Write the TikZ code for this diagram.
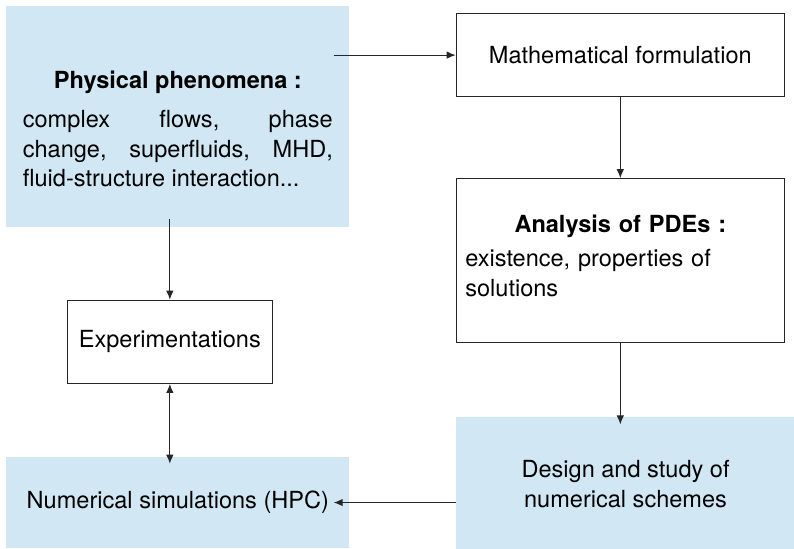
\documentclass[tikz,border=0pt]{standalone}
\usepackage{fontspec}
\setmainfont{TeX Gyre Heros}
\usepackage{tikz}
\usetikzlibrary{arrows.meta, positioning}
\definecolor{phenblue}{RGB}{209,232,244}
\newcommand{\boxfont}{\fontsize{13.4}{16.8}\selectfont}

\begin{document}
\begin{tikzpicture}[
  bbox/.style={fill=phenblue, inner sep=0pt, align=center, font=\boxfont},
  wbox/.style={draw=black!85, line width=0.7pt, inner sep=0pt,
               align=center, font=\boxfont},
  arr/.style={-{Latex[length=1.8mm, width=1.5mm]}, draw=black!85, line width=0.6pt},
  darr/.style={{Latex[length=1.8mm, width=1.5mm]}-{Latex[length=1.8mm, width=1.5mm]},
               draw=black!85, line width=0.6pt}
]
  \useasboundingbox (0,0) rectangle (15.88,-10.98);

  % - Colonne gauche : phenomenes, experiences, simulations -
  \node[bbox, anchor=north west, minimum width=6.86cm, minimum height=4.42cm,
        text width=6.2cm, inner xsep=0.33cm, align=justify, text height=0.84cm]
    (phys) at (0.12,-0.12)
    {{\centering\textbf{Physical phenomena :}\par}\vspace{0.19cm}
     complex\hfill flows,\hfill phase\\
     change,\hfill superfluids,\hfill MHD,\\
     fluid-structure interaction...};

  % - Colonne droite : formulation, analyse, schemas -
  \node[wbox, minimum width=6.56cm, minimum height=1.66cm,
        below right=0.14cm and 2.12cm of phys.north east] (math)
    {Mathematical formulation};
  \node[wbox, minimum width=6.56cm, minimum height=3.28cm, text width=6.2cm,
        inner xsep=0.18cm, align=left, text height=0.16cm, below=1.62cm of math] (anal)
    {{\centering\textbf{Analysis of PDEs :}\par}\vspace{0.09cm}
     existence, properties of\\solutions};
  \node[bbox, minimum width=6.78cm, minimum height=2.70cm,
        below=1.46cm of anal.south west, anchor=north west] (design)
    {Design and study of\\numerical schemes};

  \node[wbox, minimum width=4.10cm, minimum height=1.66cm,
        below=1.44cm of phys, xshift=-0.16cm] (exp) {Experimentations};
  \node[bbox, minimum width=6.86cm, minimum height=1.82cm,
        below=4.58cm of phys] (num) {Numerical simulations (HPC)};

  % - Points d'attache -
  \path (phys.east |- math.west) ++(-0.32,0) coordinate (physout);
  \path (exp.north |- phys.south) ++(0,0.18) coordinate (physdown);
  \path (exp.south |- num.north) ++(0,-0.14) coordinate (numup);
  \path (anal.south |- design.north) ++(0,-0.16) coordinate (designin);
  \path (num.east) ++(-0.32,0) coordinate (numin);

  % - Fleches -
  \draw[arr]  (physout) -- (math.west);
  \draw[arr]  (math) -- (anal);
  \draw[arr]  (anal.south) -- (designin);
  \draw[arr]  (design.west |- numin) -- (numin);
  \draw[arr]  (physdown) -- (exp.north);
  \draw[darr] (exp.south) -- (numup);
\end{tikzpicture}
\end{document}
